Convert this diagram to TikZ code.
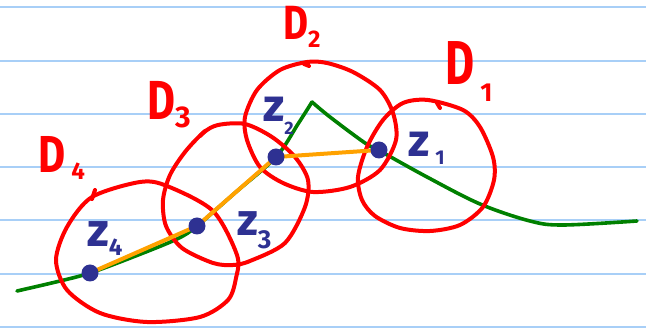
\documentclass[tikz,border=0pt]{standalone}
\usepackage{fontspec}
\setmainfont{Fira Sans}
\definecolor{paperblue}{HTML}{A8CFF7}
\definecolor{penred}{HTML}{FF0000}
\definecolor{pengreen}{HTML}{008000}
\definecolor{penorange}{HTML}{FFA200}
\definecolor{penblue}{HTML}{2E3192}
\pgfdeclarelayer{back}
\pgfsetlayers{back,main}
\begin{document}
\begin{tikzpicture}[x=1pt,y=-1pt,
  ruled/.style={draw=paperblue, line width=2pt},
  disc/.style={draw=penred, line width=4pt, line join=round, line cap=round},
  greencurve/.style={draw=pengreen, line width=3.6pt, line join=round, line cap=round},
  orangeline/.style={draw=penorange, line width=4pt, line join=round, line cap=round},
  dot/.style={circle, fill=penblue, minimum size=17pt, inner sep=0pt},
  dlab/.style={text=penred, inner sep=0pt, anchor=base west, font=\bfseries},
  zlab/.style={text=penblue, inner sep=0pt, anchor=base west, font=\bfseries}]
\useasboundingbox (0,0) rectangle (646,328);
% points
\node[dot] (z1) at (379,150) {};
\node[dot] (z2) at (276,157) {};
\node[dot] (z3) at (197,226) {};
\node[dot] (z4) at (90,273) {};
% labels
\node[dlab] (D1) at (445,85) {\fontsize{62}{62}\selectfont\scalebox{0.72}[1]{D}\hspace{6pt}\raisebox{-17pt}{\fontsize{26}{26}\selectfont 1}};
\node[dlab] (D2) at (283,40) {\fontsize{48}{48}\selectfont\scalebox{0.8}[1]{D}\raisebox{-8pt}{\fontsize{24}{24}\selectfont 2}};
\node[dlab] (D3) at (147,120) {\fontsize{55}{55}\selectfont\scalebox{0.78}[1]{D}\raisebox{-8pt}{\fontsize{30}{30}\selectfont 3}};
\node[dlab] (D4) at (38,173) {\fontsize{52}{52}\selectfont\scalebox{0.8}[1]{D}\hspace{6pt}\raisebox{-7pt}{\fontsize{24}{24}\selectfont 4}};
\node[zlab] (l1) at (408,157) {\fontsize{46}{46}\selectfont z\hspace{6pt}\raisebox{-8pt}{\fontsize{20}{20}\selectfont 1}};
\node[zlab] (l2) at (263,122) {\fontsize{46}{46}\selectfont z\raisebox{-13pt}{\fontsize{18}{18}\selectfont 2}};
\node[zlab] (l3) at (237,236) {\fontsize{45}{45}\selectfont z\raisebox{-13pt}{\fontsize{26}{26}\selectfont 3}};
\node[zlab] (l4) at (87,247) {\fontsize{47}{47}\selectfont z\raisebox{-9pt}{\fontsize{24}{24}\selectfont 4}};
\begin{pgfonlayer}{back}
% ruled paper
\foreach \k in {0,...,6} {
  \draw[ruled] (0,{7.5+53.25*\k}) -- (646,{7.5+53.25*\k});
}
% green curve
\draw[greencurve] plot[smooth, tension=0.55] coordinates {(17,291) (60,281) (90,273) (133,257) (177,239) (197,226) (236,192) (276,157) (298,124) (312,102)};
\draw[greencurve] plot[smooth, tension=0.55] coordinates {(312,102) (330,117) (365,143) (380,151) (427,177) (480,204) (530,221) (563,225) (637,221)};
% discs
\draw[disc] plot[smooth cycle] coordinates {(92,197) (140,182) (167,186) (213,211) (237,255) (236,278) (228,300) (200,317) (147,322) (100,313) (67,290) (56,260) (67,227)};
\draw[disc] (92,199) -- (95,190);
\draw[disc] plot[smooth cycle] coordinates {(203,133) (218,125) (245,124) (272,137) (295,157) (308,180) (305,207) (285,243) (250,261) (233,265) (213,263) (182,248) (166,226) (163,200) (170,175) (185,152)};
\draw[disc] (200,136) -- (205,131);
\draw[disc] plot[smooth cycle] coordinates {(307,62) (327,63) (353,72) (380,90) (393,113) (396,140) (380,170) (350,187) (313,192) (283,183) (260,167) (247,140) (245,117) (257,90) (280,70)};
\draw[disc] (304,64) -- (309,66);
\draw[disc] plot[smooth cycle] coordinates {(428,100) (463,110) (480,127) (493,157) (494,180) (483,207) (460,225) (430,231) (400,228) (375,216) (362,200) (358,177) (367,147) (383,120) (403,103)};
\draw[disc] (437,103) -- (440,108);
% orange chain
\draw[orangeline] (z4.center) -- (z3.center) -- (z2.center) -- (z1.center);
\end{pgfonlayer}
\end{tikzpicture}
\end{document}
